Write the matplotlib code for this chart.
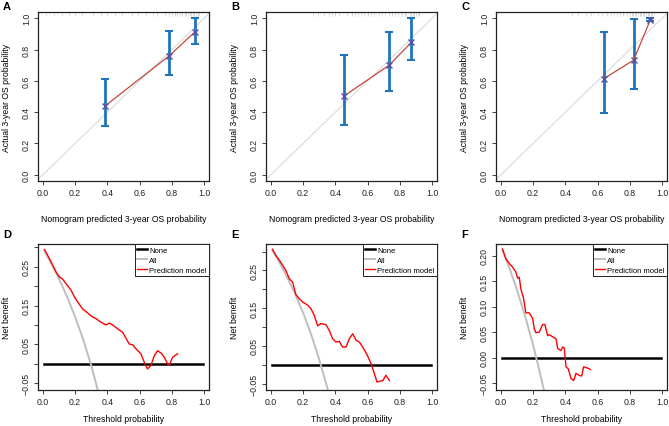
import matplotlib
matplotlib.use('Agg')
import matplotlib.pyplot as plt

plt.rcParams['font.family'] = ['Liberation Sans', 'DejaVu Sans']

W, H = 669, 427

# Calibration data (predicted, observed, CI low, CI high)
cal_pred = {'A': [0.385, 0.783, 0.944], 'B': [0.454, 0.733, 0.871], 'C': [0.638, 0.823, 0.927]}
cal_obs = {'A': [0.439, 0.760, 0.914], 'B': [0.503, 0.700, 0.846], 'C': [0.614, 0.732, 0.991]}
cal_lo = {'A': [0.310, 0.636, 0.833], 'B': [0.321, 0.535, 0.732], 'C': [0.396, 0.546, 0.985]}
cal_hi = {'A': [0.614, 0.918, 1.000], 'B': [0.764, 0.914, 1.000], 'C': [0.910, 0.995, 1.000]}

rug = {
    'A': [0.02, 0.07, 0.12, 0.16, 0.20, 0.24, 0.31, 0.36, 0.40, 0.45, 0.49, 0.55, 0.59, 0.64,
          0.68, 0.71, 0.76, 0.78, 0.80, 0.82, 0.83, 0.85, 0.86, 0.88, 0.89, 0.90, 0.91, 0.92,
          0.93, 0.94, 0.95, 0.96, 0.97],
    'B': [0.26, 0.29, 0.33, 0.36, 0.38, 0.40, 0.42, 0.47, 0.50, 0.52, 0.54, 0.56, 0.58, 0.60,
          0.62, 0.64, 0.67, 0.69, 0.71, 0.73, 0.75, 0.77, 0.79, 0.81, 0.83, 0.84, 0.86, 0.87,
          0.88, 0.89, 0.90, 0.91, 0.92],
    'C': [0.44, 0.48, 0.53, 0.56, 0.60, 0.63, 0.66, 0.68, 0.70, 0.72, 0.74, 0.76, 0.78, 0.80,
          0.81, 0.82, 0.83, 0.84, 0.85, 0.86, 0.87, 0.88, 0.89, 0.90, 0.91, 0.92, 0.93, 0.94, 0.95],
}

# Decision curves
none_x = [0.01, 0.99]
none_y = [0.0, 0.0]

all_x = {
    'D': [0.01, 0.05, 0.10, 0.15, 0.20, 0.25, 0.30, 0.35],
    'E': [0.01, 0.05, 0.10, 0.15, 0.20, 0.25, 0.30, 0.35, 0.36],
    'F': [0.01, 0.05, 0.10, 0.15, 0.20, 0.25, 0.27],
}
all_y = {
    'D': [0.290, 0.260, 0.219, 0.173, 0.121, 0.063, -0.004, -0.082],
    'E': [0.303, 0.274, 0.233, 0.188, 0.138, 0.080, 0.014, -0.061, -0.078],
    'F': [0.212, 0.179, 0.133, 0.082, 0.025, -0.040, -0.068],
}

model_x = {
    'D': [0.01, 0.041, 0.062, 0.082, 0.103, 0.12, 0.144, 0.175, 0.196, 0.216, 0.247, 0.278,
          0.299, 0.33, 0.361, 0.392, 0.412, 0.433, 0.464, 0.495, 0.515, 0.536, 0.557, 0.577,
          0.608, 0.629, 0.649, 0.670, 0.691, 0.711, 0.732, 0.753, 0.773, 0.784, 0.804, 0.835],
    'E': [0.01, 0.031, 0.062, 0.093, 0.114, 0.135, 0.155, 0.176, 0.197, 0.228, 0.248, 0.269,
          0.29, 0.311, 0.342, 0.362, 0.383, 0.404, 0.424, 0.445, 0.466, 0.487, 0.507, 0.528,
          0.549, 0.569, 0.596, 0.621, 0.642, 0.658, 0.673, 0.694, 0.714, 0.735],
    'F': [0.01, 0.031, 0.052, 0.072, 0.093, 0.104, 0.114, 0.124, 0.141, 0.155, 0.176, 0.197,
          0.207, 0.217, 0.238, 0.259, 0.273, 0.29, 0.30, 0.321, 0.342, 0.352, 0.373, 0.383,
          0.393, 0.404, 0.418, 0.435, 0.451, 0.466, 0.487, 0.501, 0.513, 0.534, 0.555],
}
model_y = {
    'D': [0.294, 0.270, 0.253, 0.236, 0.223, 0.219, 0.206, 0.189, 0.172, 0.159, 0.141, 0.131,
          0.123, 0.116, 0.107, 0.100, 0.105, 0.100, 0.090, 0.081, 0.066, 0.051, 0.049, 0.039,
          0.026, 0.004, -0.013, -0.004, 0.021, 0.034, 0.028, 0.017, 0.000, -0.003, 0.017, 0.026],
    'E': [0.306, 0.290, 0.271, 0.250, 0.228, 0.219, 0.186, 0.175, 0.166, 0.158, 0.149, 0.131,
          0.103, 0.109, 0.106, 0.091, 0.069, 0.060, 0.062, 0.047, 0.047, 0.069, 0.082, 0.065,
          0.060, 0.047, 0.027, 0.003, -0.024, -0.046, -0.044, -0.042, -0.028, -0.042],
    'F': [0.213, 0.194, 0.185, 0.178, 0.168, 0.156, 0.158, 0.135, 0.116, 0.088, 0.088, 0.077,
          0.057, 0.049, 0.050, 0.065, 0.065, 0.043, 0.045, 0.041, 0.037, 0.018, 0.014, 0.021,
          0.019, -0.018, -0.022, -0.041, -0.045, -0.031, -0.035, -0.036, -0.018, -0.020, -0.023],
}

dca_ylim = {'D': (-0.067, 0.308), 'E': (-0.067, 0.320), 'F': (-0.0635, 0.223)}
dca_yticks = {
    'D': [-0.05, 0.0, 0.05, 0.10, 0.15, 0.20, 0.25, 0.30],
    'E': [-0.05, 0.0, 0.05, 0.10, 0.15, 0.20, 0.25, 0.30],
    'F': [-0.05, 0.0, 0.05, 0.10, 0.15, 0.20],
}
dca_ylabels = {
    'D': ['\u22120.05', '', '0.05', '', '0.15', '', '0.25', ''],
    'E': ['\u22120.05', '', '0.05', '', '0.15', '', '0.25', ''],
    'F': ['\u22120.05', '0.00', '0.05', '0.10', '0.15', '0.20'],
}

fig = plt.figure(figsize=(W / 100, H / 100), dpi=100)


def add_axes(l, t, r, b):
    return fig.add_axes([l / W, 1 - b / H, (r - l) / W, (b - t) / H])


def style(ax):
    for s in ax.spines.values():
        s.set_linewidth(0.9)
        s.set_color('#222222')
    ax.tick_params(direction='out', length=3, width=0.6, labelsize=6.3, pad=2, colors='#222222')


lefts = [38, 266, 496]
xticks = [0.0, 0.2, 0.4, 0.6, 0.8, 1.0]
xticklabels = ['0.0', '0.2', '0.4', '0.6', '0.8', '1.0']

# Calibration plots
for i, key in enumerate(['A', 'B', 'C']):
    ax = add_axes(lefts[i], 13, lefts[i] + 171, 182)
    ax.set_xlim(-0.03, 1.03)
    ax.set_ylim(-0.04, 1.04)
    ax.axline((0, 0), (1, 1), color='#DADADA', lw=0.8, zorder=1)
    ax.vlines(rug[key], 0.975, 1.0, transform=ax.get_xaxis_transform(), color='#C4C4C4', lw=0.4)
    obs = cal_obs[key]
    err = [[o - l for o, l in zip(obs, cal_lo[key])], [h - o for o, h in zip(obs, cal_hi[key])]]
    ax.errorbar(cal_pred[key], obs, yerr=err, fmt='none', ecolor='#1F74BC', elinewidth=2,
                capsize=2.6, capthick=1.5, zorder=2)
    ax.plot(cal_pred[key], obs, color='#C4493A', lw=0.9, zorder=3)
    ax.plot(cal_pred[key], obs, 'x', color='#5A4FA6', ms=4, mew=1, zorder=4)
    ax.set_xticks(xticks)
    ax.set_xticklabels(xticklabels)
    ax.set_yticks(xticks)
    ax.set_yticklabels(xticklabels, rotation=90, va='center')
    ax.set_xlabel('Nomogram predicted 3-year OS probability', fontsize=6.2, labelpad=12)
    ax.set_ylabel('Actual 3-year OS probability', fontsize=6.2, labelpad=8)
    style(ax)
    fig.text((lefts[i] - 35) / W, 1 - 7 / H, key, fontsize=8, fontweight='bold', va='center')

# Decision curves
for i, key in enumerate(['D', 'E', 'F']):
    ax = add_axes(lefts[i], 245, lefts[i] + 171, 391)
    ax.set_xlim(-0.03, 1.03)
    ax.set_ylim(*dca_ylim[key])
    ax.plot(none_x, none_y, color='black', lw=1.8, label='None')
    ax.plot(all_x[key], all_y[key], color='#BEBEBE', lw=1.4, label='All')
    ax.plot(model_x[key], model_y[key], color='red', lw=1.0, label='Prediction model')
    ax.set_xticks(xticks)
    ax.set_xticklabels(xticklabels)
    ax.set_yticks(dca_yticks[key])
    ax.set_yticklabels(dca_ylabels[key], rotation=90, va='center')
    ax.set_xlabel('Threshold probability', fontsize=6.2, labelpad=6)
    ax.set_ylabel('Net benefit', fontsize=6.2, labelpad=8)
    leg = ax.legend(loc='upper right', borderaxespad=0, fancybox=False, edgecolor='#222222',
                    framealpha=1, fontsize=5.5, handlelength=1.3, handletextpad=0.3,
                    labelspacing=0.35, borderpad=0.3)
    leg.get_frame().set_linewidth(0.7)
    style(ax)
    fig.text((lefts[i] - 35) / W, 1 - 235 / H, key, fontsize=8, fontweight='bold', va='center')

plt.savefig('out.png', dpi=100)
